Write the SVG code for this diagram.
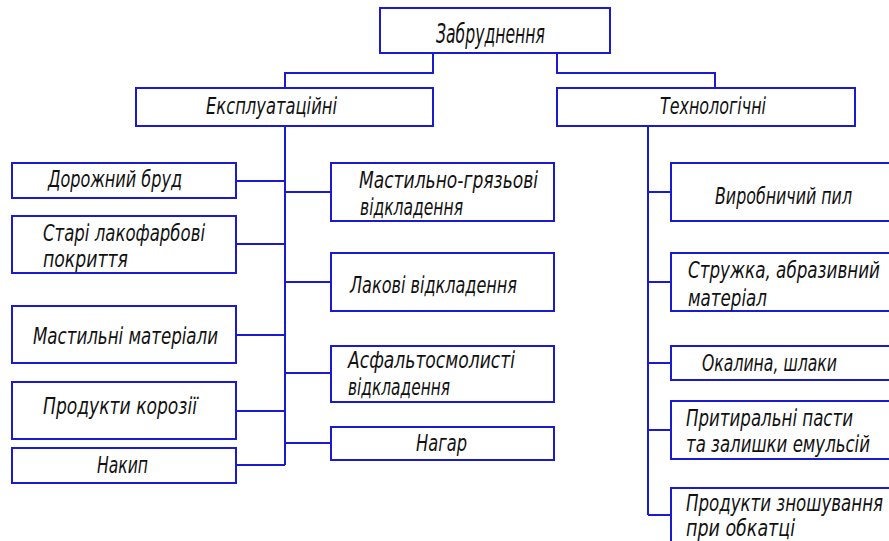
<svg xmlns="http://www.w3.org/2000/svg" width="889" height="541" viewBox="0 0 889 541">
<style>
  .box{fill:#fff;stroke:#1a1ad0;stroke-width:2}
  .ln{fill:none;stroke:#1a1ad0;stroke-width:2}
  text{font-family:"DejaVu Sans Condensed","Liberation Sans Narrow","Liberation Sans",sans-serif;font-style:italic;font-size:23px;fill:#111}
  .big{font-size:27px}
</style>
<rect width="889" height="541" fill="#fff"/>
<g id="connectors">
  <path class="ln" d="M433,53 V73 H285 V88"/>
  <path class="ln" d="M557,53 V73 H715 V88"/>
  <path class="ln" d="M285,126 V465"/>
  <path class="ln" d="M236,181 H285 M236,244 H285 M236,335 H285 M236,411 H285 M236,465 H285"/>
  <path class="ln" d="M285,192 H331 M285,282 H331 M285,373 H331 M285,443 H331"/>
  <path class="ln" d="M648,126 V515"/>
  <path class="ln" d="M648,192 H671 M648,282 H671 M648,363 H671 M648,430 H671 M648,515 H671"/>
</g>
<g id="root"><rect class="box" x="380" y="8" width="230" height="45"/><text class="big" x="436" y="43" textLength="109" lengthAdjust="spacingAndGlyphs">Забруднення</text></g>
<g id="expl"><rect class="box" x="136" y="88" width="297" height="38"/><text x="206" y="114" textLength="131" lengthAdjust="spacingAndGlyphs">Експлуатаційні</text></g>
<g id="tech"><rect class="box" x="557" y="88" width="298" height="38"/><text x="660" y="114" textLength="106" lengthAdjust="spacingAndGlyphs">Технологічні</text></g>

<g id="l1"><rect class="box" x="12" y="163" width="224" height="35"/><text x="48" y="187" textLength="134" lengthAdjust="spacingAndGlyphs">Дорожний бруд</text></g>
<g id="l2"><rect class="box" x="12" y="216" width="224" height="57"/><text x="43" y="241" textLength="162" lengthAdjust="spacingAndGlyphs">Старі лакофарбові</text><text x="43" y="267" textLength="85" lengthAdjust="spacingAndGlyphs">покриття</text></g>
<g id="l3"><rect class="box" x="12" y="306" width="224" height="57"/><text x="33" y="344" textLength="185" lengthAdjust="spacingAndGlyphs">Мастильні матеріали</text></g>
<g id="l4"><rect class="box" x="12" y="382" width="224" height="57"/><text x="43" y="414" textLength="154" lengthAdjust="spacingAndGlyphs">Продукти корозії</text></g>
<g id="l5"><rect class="box" x="12" y="448" width="224" height="35"/><text x="97" y="473" textLength="51" lengthAdjust="spacingAndGlyphs">Накип</text></g>

<g id="m1"><rect class="box" x="331" y="163" width="223" height="58"/><text x="359" y="188" textLength="179" lengthAdjust="spacingAndGlyphs">Мастильно-грязьові</text><text x="360" y="215" textLength="103" lengthAdjust="spacingAndGlyphs">відкладення</text></g>
<g id="m2"><rect class="box" x="331" y="253" width="223" height="58"/><text x="350" y="293" textLength="167" lengthAdjust="spacingAndGlyphs">Лакові відкладення</text></g>
<g id="m3"><rect class="box" x="331" y="346" width="223" height="56"/><text x="348" y="368" textLength="167" lengthAdjust="spacingAndGlyphs">Асфальтосмолисті</text><text x="348" y="395" textLength="102" lengthAdjust="spacingAndGlyphs">відкладення</text></g>
<g id="m4"><rect class="box" x="331" y="427" width="223" height="33"/><text x="416" y="451" textLength="51" lengthAdjust="spacingAndGlyphs">Нагар</text></g>

<g id="r1"><rect class="box" x="671" y="163" width="219" height="58"/><text x="715" y="204" textLength="137" lengthAdjust="spacingAndGlyphs">Виробничий пил</text></g>
<g id="r2"><rect class="box" x="671" y="253" width="219" height="58"/><text x="688" y="278" textLength="192" lengthAdjust="spacingAndGlyphs">Стружка, абразивний</text><text x="688" y="306" textLength="79" lengthAdjust="spacingAndGlyphs">матеріал</text></g>
<g id="r3"><rect class="box" x="671" y="346" width="219" height="34"/><text x="702" y="371" textLength="135" lengthAdjust="spacingAndGlyphs">Окалина, шлаки</text></g>
<g id="r4"><rect class="box" x="671" y="401" width="219" height="58"/><text x="686" y="426" textLength="167" lengthAdjust="spacingAndGlyphs">Притиральні пасти</text><text x="686" y="452" textLength="184" lengthAdjust="spacingAndGlyphs">та залишки емульсій</text></g>
<g id="r5"><rect class="box" x="671" y="488" width="219" height="70"/><text x="686" y="511" textLength="197" lengthAdjust="spacingAndGlyphs">Продукти зношування</text><text x="686" y="536" textLength="109" lengthAdjust="spacingAndGlyphs">при обкатці</text></g>
</svg>
